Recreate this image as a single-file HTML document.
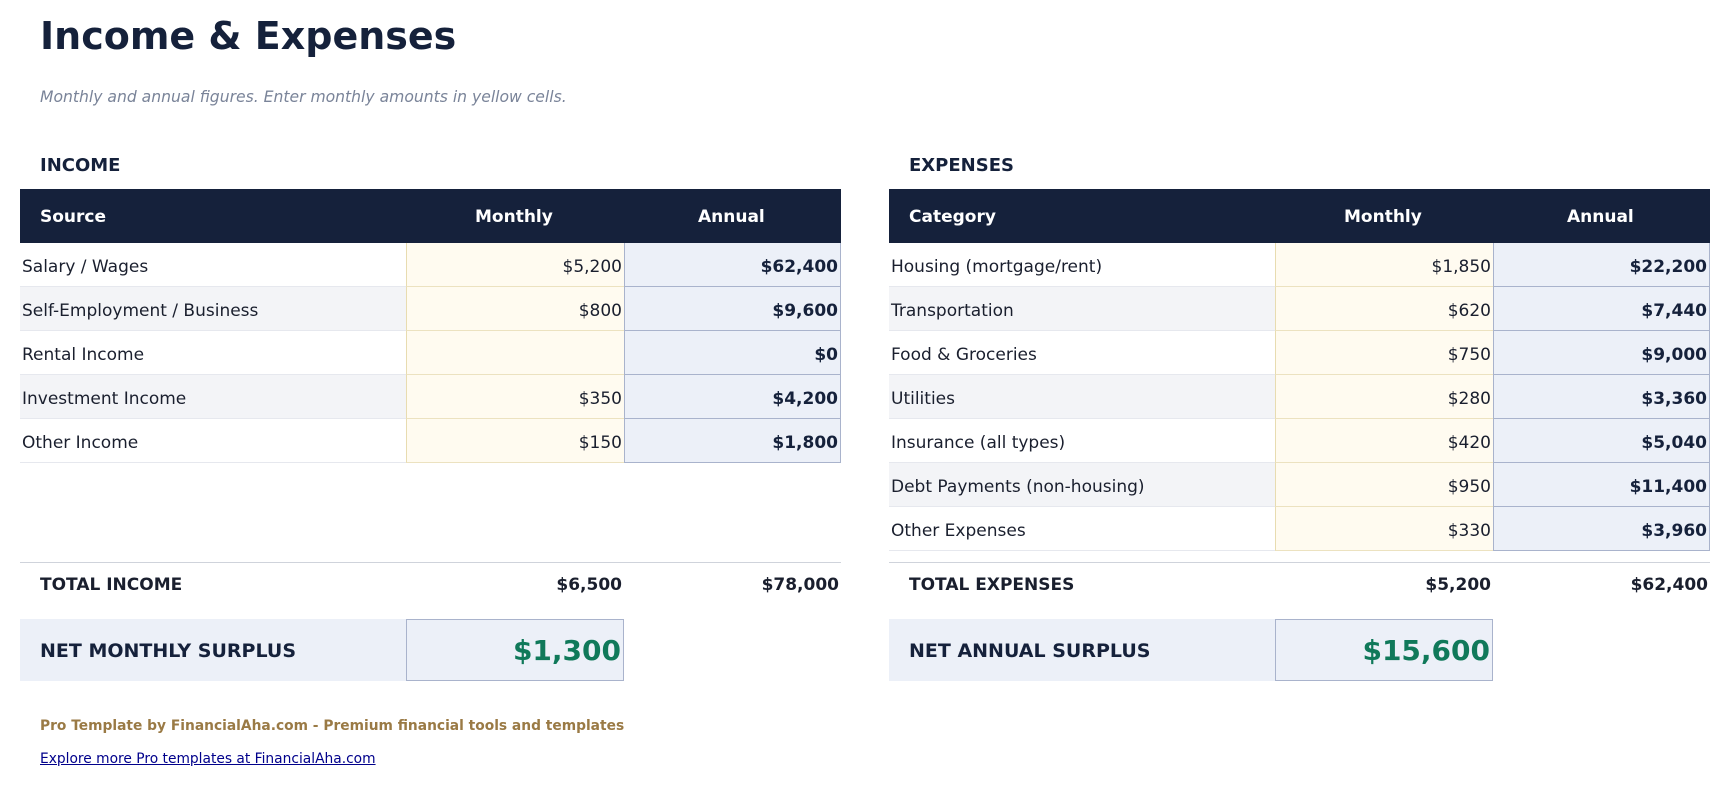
<!DOCTYPE html>
<html><head><meta charset="utf-8"><style>
*{margin:0;padding:0;box-sizing:border-box}
body{width:1731px;height:786px;background:#fff;font-family:"DejaVu Sans","Liberation Sans",sans-serif;color:#1a1f2e;position:relative;overflow:hidden}
.a{position:absolute;white-space:nowrap}
.hdr{position:absolute;background:#15213b;color:#fff;font-weight:bold;font-size:17px;height:54px;top:189px}
.hdr span{position:absolute;top:18px}
.row{position:absolute;height:44px;border-bottom:1px solid #e6e8ee;font-size:17px}
.row .l{position:absolute;left:2px;top:14px}
.m{position:absolute;top:0;height:44px;background:#fffbf0;border-left:1px solid #e8dcb0;border-bottom:1px solid #ece2c0;text-align:right;padding-right:2px;padding-top:14px}
.y{position:absolute;top:0;height:44px;background:#ecf0f8;border:1px solid #a9b3cc;border-top:none;text-align:right;padding-right:2px;padding-top:14px;font-weight:bold;color:#15213b}
.tot{position:absolute;top:575px;font-weight:bold;font-size:17px;color:#1a1f2e}
.net{position:absolute;top:619px;height:62px;background:#ecf0f8}
.nb{position:absolute;top:619px;height:62px;background:#ecf0f8;border:1px solid #a9b3cc;text-align:right;padding-right:2px;padding-top:14px;font-size:28px;font-weight:bold;color:#10795a}
</style></head><body>
<div class="a" style="left:40px;top:14px;font-size:38px;font-weight:bold;color:#15213b">Income &amp; Expenses</div>
<div class="a" style="left:40px;top:88px;font-size:15.6px;font-style:italic;color:#7a8499">Monthly and annual figures. Enter monthly amounts in yellow cells.</div>
<div class="a" style="left:40px;top:155px;font-size:18px;font-weight:bold;color:#15213b">INCOME</div>
<div class="a" style="left:909px;top:155px;font-size:18px;font-weight:bold;color:#15213b">EXPENSES</div>

<div class="hdr" style="left:20px;width:821px"><span style="left:20px">Source</span><span style="left:455px">Monthly</span><span style="left:678px">Annual</span></div>
<div class="hdr" style="left:889px;width:821px"><span style="left:20px">Category</span><span style="left:455px">Monthly</span><span style="left:678px">Annual</span></div>

<div class="row" style="left:20px;width:821px;top:243px;background:#fff"><span class="l">Salary / Wages</span><div class="m" style="left:386px;width:218px">$5,200</div><div class="y" style="left:604px;width:217px">$62,400</div></div>
<div class="row" style="left:20px;width:821px;top:287px;background:#f3f4f7"><span class="l">Self-Employment / Business</span><div class="m" style="left:386px;width:218px">$800</div><div class="y" style="left:604px;width:217px">$9,600</div></div>
<div class="row" style="left:20px;width:821px;top:331px;background:#fff"><span class="l">Rental Income</span><div class="m" style="left:386px;width:218px"></div><div class="y" style="left:604px;width:217px">$0</div></div>
<div class="row" style="left:20px;width:821px;top:375px;background:#f3f4f7"><span class="l">Investment Income</span><div class="m" style="left:386px;width:218px">$350</div><div class="y" style="left:604px;width:217px">$4,200</div></div>
<div class="row" style="left:20px;width:821px;top:419px;background:#fff"><span class="l">Other Income</span><div class="m" style="left:386px;width:218px">$150</div><div class="y" style="left:604px;width:217px">$1,800</div></div>

<div class="row" style="left:889px;width:821px;top:243px;background:#fff"><span class="l">Housing (mortgage/rent)</span><div class="m" style="left:386px;width:218px">$1,850</div><div class="y" style="left:604px;width:217px">$22,200</div></div>
<div class="row" style="left:889px;width:821px;top:287px;background:#f3f4f7"><span class="l">Transportation</span><div class="m" style="left:386px;width:218px">$620</div><div class="y" style="left:604px;width:217px">$7,440</div></div>
<div class="row" style="left:889px;width:821px;top:331px;background:#fff"><span class="l">Food &amp; Groceries</span><div class="m" style="left:386px;width:218px">$750</div><div class="y" style="left:604px;width:217px">$9,000</div></div>
<div class="row" style="left:889px;width:821px;top:375px;background:#f3f4f7"><span class="l">Utilities</span><div class="m" style="left:386px;width:218px">$280</div><div class="y" style="left:604px;width:217px">$3,360</div></div>
<div class="row" style="left:889px;width:821px;top:419px;background:#fff"><span class="l">Insurance (all types)</span><div class="m" style="left:386px;width:218px">$420</div><div class="y" style="left:604px;width:217px">$5,040</div></div>
<div class="row" style="left:889px;width:821px;top:463px;background:#f3f4f7"><span class="l">Debt Payments (non-housing)</span><div class="m" style="left:386px;width:218px">$950</div><div class="y" style="left:604px;width:217px">$11,400</div></div>
<div class="row" style="left:889px;width:821px;top:507px;background:#fff"><span class="l">Other Expenses</span><div class="m" style="left:386px;width:218px">$330</div><div class="y" style="left:604px;width:217px">$3,960</div></div>

<div class="a" style="left:20px;top:562px;width:821px;border-top:1px solid #cfd3db"></div>
<div class="a" style="left:889px;top:562px;width:821px;border-top:1px solid #cfd3db"></div>
<div class="tot" style="left:40px">TOTAL INCOME</div>
<div class="tot" style="left:406px;width:216px;text-align:right">$6,500</div>
<div class="tot" style="left:624px;width:215px;text-align:right">$78,000</div>
<div class="tot" style="left:909px">TOTAL EXPENSES</div>
<div class="tot" style="left:1275px;width:216px;text-align:right">$5,200</div>
<div class="tot" style="left:1493px;width:215px;text-align:right">$62,400</div>

<div class="net" style="left:20px;width:386px"><span class="a" style="left:20px;top:21px;font-size:19px;font-weight:bold;color:#15213b">NET MONTHLY SURPLUS</span></div>
<div class="nb" style="left:406px;width:218px">$1,300</div>
<div class="net" style="left:889px;width:386px"><span class="a" style="left:20px;top:21px;font-size:19px;font-weight:bold;color:#15213b">NET ANNUAL SURPLUS</span></div>
<div class="nb" style="left:1275px;width:218px">$15,600</div>

<div class="a" style="left:40px;top:718px;font-size:13.8px;font-weight:bold;color:#9a7a45">Pro Template by FinancialAha.com - Premium financial tools and templates</div>
<div class="a" style="left:40px;top:751px;font-size:13.8px;color:#00008b;text-decoration:underline">Explore more Pro templates at FinancialAha.com</div>
</body></html>
